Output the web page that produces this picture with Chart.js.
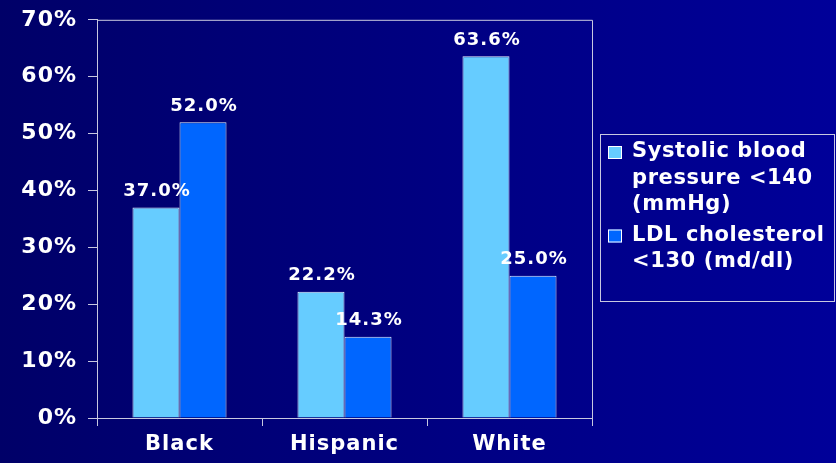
<!DOCTYPE html>
<html>
<head>
<meta charset="utf-8">
<script src="https://cdn.jsdelivr.net/npm/chart.js@4/dist/chart.umd.min.js"></script>
<style>
  html, body { margin: 0; padding: 0; }
  body { width: 836px; height: 463px; background: linear-gradient(to right, #000068, #000099); }
  #wrap { position: relative; width: 836px; height: 463px; }
</style>
</head>
<body>
<div id="wrap"><canvas id="chart"></canvas></div>
<script>
const groups = ['Black', 'Hispanic', 'White'];
const systolic = [37.0, 22.2, 63.6];
const ldl = [52.0, 14.3, 25.0];
const seriesNames = [
  ['Systolic blood', 'pressure <140', '(mmHg)'],
  ['LDL cholesterol', '<130 (md/dl)']
];
const yTicks = [0, 10, 20, 30, 40, 50, 60, 70];

const FONT = '"DejaVu Sans", Verdana, sans-serif';
const LINE = '#c8c8e0';

// Verdana is wider than DejaVu, so open the letters up a little
const spacing = {
  id: 'spacing',
  beforeDraw(chart) { chart.ctx.letterSpacing = '1px'; }
};

// values over the bars
const valueLabels = {
  id: 'valueLabels',
  afterDatasetsDraw(chart) {
    const ctx = chart.ctx;
    ctx.save();
    ctx.letterSpacing = '1px';
    ctx.font = 'bold 18px ' + FONT;
    ctx.fillStyle = '#ffffff';
    ctx.textAlign = 'center';
    ctx.textBaseline = 'bottom';
    chart.data.datasets.forEach((ds, i) => {
      chart.getDatasetMeta(i).data.forEach((bar, j) => {
        ctx.fillText(ds.data[j].toFixed(1) + '%', bar.x + 1, bar.y - 7);
      });
    });
    ctx.restore();
  }
};

// top and right edge of the plot frame
const frame = {
  id: 'frame',
  beforeDatasetsDraw(chart) {
    const a = chart.chartArea, ctx = chart.ctx;
    ctx.save();
    ctx.strokeStyle = LINE;
    ctx.lineWidth = 1;
    ctx.beginPath();
    ctx.moveTo(a.left, a.top + 0.5);
    ctx.lineTo(a.right + 0.5, a.top + 0.5);
    ctx.lineTo(a.right + 0.5, a.bottom);
    ctx.stroke();
    ctx.restore();
  }
};

// boxed legend on the right
const boxLegend = {
  id: 'boxLegend',
  afterDraw(chart) {
    const ctx = chart.ctx;
    ctx.save();
    ctx.strokeStyle = LINE;
    ctx.lineWidth = 1;
    ctx.strokeRect(600.5, 134.5, 234, 167);
    ctx.letterSpacing = '0.6px';
    ctx.font = 'bold 21px ' + FONT;
    ctx.textBaseline = 'middle';
    let y = 152;
    chart.data.datasets.forEach((ds, i) => {
      ctx.fillStyle = ds.backgroundColor;
      ctx.fillRect(608, y - 6, 14, 13);
      ctx.strokeStyle = '#ffffff';
      ctx.strokeRect(608.5, y - 5.5, 13, 12);
      ctx.fillStyle = '#ffffff';
      seriesNames[i].forEach(t => {
        ctx.fillText(t, 632, y);
        y += 26.5;
      });
      y += 4;
    });
    ctx.restore();
  }
};

new Chart(document.getElementById('chart'), {
  type: 'bar',
  data: {
    labels: groups,
    datasets: [
      { label: seriesNames[0].join(' '), data: systolic, backgroundColor: '#66ccff', borderColor: '#e8f4ff', borderWidth: 1 },
      { label: seriesNames[1].join(' '), data: ldl, backgroundColor: '#0066ff', borderColor: '#e8f4ff', borderWidth: 1 }
    ]
  },
  options: {
    responsive: true,
    maintainAspectRatio: false,
    animation: false,
    datasets: { bar: { categoryPercentage: 0.57, barPercentage: 1 } },
    layout: { padding: { left: 0, top: 0, right: 244, bottom: 0 } },
    plugins: { legend: { display: false }, tooltip: { enabled: false } },
    scales: {
      x: {
        grid: { drawOnChartArea: false, drawTicks: true, tickLength: 8, color: LINE, offset: true },
        border: { color: LINE },
        ticks: { color: '#ffffff', font: { family: FONT, size: 21, weight: 'bold' }, padding: 6 },
        afterFit(s) { s.height = 45; }
      },
      y: {
        min: 0,
        max: 70,
        afterBuildTicks(s) { s.ticks = yTicks.map(v => ({ value: v })); },
        grid: { drawOnChartArea: false, drawTicks: true, tickLength: 9, color: LINE },
        border: { color: LINE },
        ticks: { color: '#ffffff', font: { family: FONT, size: 22, weight: 'bold', lineHeight: 0.8 }, padding: 11, callback: v => v + '%' },
        afterFit(s) { s.width = 97; }
      }
    }
  },
  plugins: [spacing, frame, valueLabels, boxLegend]
});
</script>
</body>
</html>
